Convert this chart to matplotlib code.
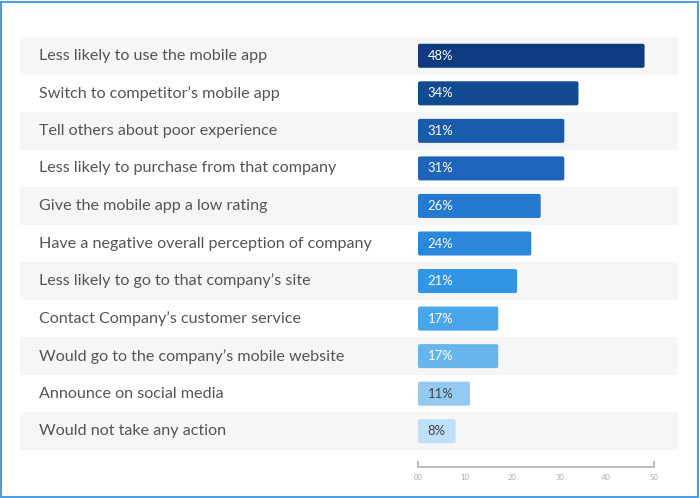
import matplotlib.pyplot as plt
from matplotlib.patches import Rectangle, FancyBboxPatch
from matplotlib.ticker import FixedLocator

plt.rcParams["font.family"] = ["Lato", "DejaVu Sans"]

labels = [
    "Less likely to use the mobile app",
    "Switch to competitor\u2019s mobile app",
    "Tell others about poor experience",
    "Less likely to purchase from that company",
    "Give the mobile app a low rating",
    "Have a negative overall perception of company",
    "Less likely to go to that company\u2019s site",
    "Contact Company\u2019s customer service",
    "Would go to the company\u2019s mobile website",
    "Announce on social media",
    "Would not take any action",
]
values = [48, 34, 31, 31, 26, 24, 21, 17, 17, 11, 8]
bar_colors = [
    "#0e3b80", "#114a90", "#1a5cac", "#1e64b9", "#2479d0", "#2a87dc",
    "#3296e6", "#4aa6ea", "#68b5ee", "#93c9f3", "#bfe0f8",
]
text_colors = ["white"] * 9 + ["#444444", "#444444"]
tick_values = [0, 10, 20, 30, 40, 50]
tick_labels = ["00", "10", "20", "30", "40", "50"]

W, H = 700, 498
fig = plt.figure(figsize=(W / 100, H / 100), dpi=100)
# axes covers the row bands: x 20..678 px, y 37..450 px
ax = fig.add_axes([20 / W, 1 - 450 / H, 658 / W, 413 / H])

scale = 4.72  # px per percent
ax.set_xlim((20 - 418) / scale, (678 - 418) / scale)
n = len(values)
ax.set_ylim(n - 0.5, -0.5)
row_px = 413 / n

for i in range(n):
    if i % 2 == 0:
        ax.axhspan(i - 0.5, i + 0.5, color="#f6f6f6", lw=0, zorder=0)

bars = ax.barh(range(n), values, height=0.64, color=bar_colors, zorder=2)
# swap plain bars for slightly rounded ones
for b in bars:
    b.set_visible(False)
    ax.add_patch(FancyBboxPatch(
        (b.get_x(), b.get_y()), b.get_width(), b.get_height(),
        boxstyle=f"round,pad=0,rounding_size={2 / scale}",
        mutation_aspect=scale / row_px,
        facecolor=b.get_facecolor(), edgecolor="none", zorder=2))

for i, (lab, v) in enumerate(zip(labels, values)):
    ax.text(19 / 658, i, lab, transform=ax.get_yaxis_transform(),
            ha="left", va="center", fontsize=11.6, color="#555555")
    ax.annotate(f"{v}%", (0, i), xytext=(7, 0), textcoords="offset points",
                ha="left", va="center", fontsize=9.4, color=text_colors[i],
                zorder=3)

for s in ["top", "right", "left"]:
    ax.spines[s].set_visible(False)
ax.spines["bottom"].set_position(("outward", 12))
ax.spines["bottom"].set_bounds(0, 50)
ax.spines["bottom"].set_color("#bdbdbd")
ax.spines["bottom"].set_linewidth(1.5)
ax.set_yticks([])
ax.set_xticks(tick_values)
ax.set_xticklabels(tick_labels)
ax.tick_params(axis="x", length=0, pad=5, labelsize=5.5, labelcolor="#aaaaaa")
ax.xaxis.remove_overlapping_locs = False
ax.xaxis.set_minor_locator(FixedLocator([0, 50]))
ax.tick_params(axis="x", which="minor", direction="in", length=4,
               width=1.5, color="#bdbdbd")

fig.patches.append(Rectangle((1 / W, 1 / H), 697 / W, 495 / H,
                             transform=fig.transFigure, fill=False,
                             edgecolor="#4d9de0", lw=1.5))

fig.savefig("out.png", dpi=100)
